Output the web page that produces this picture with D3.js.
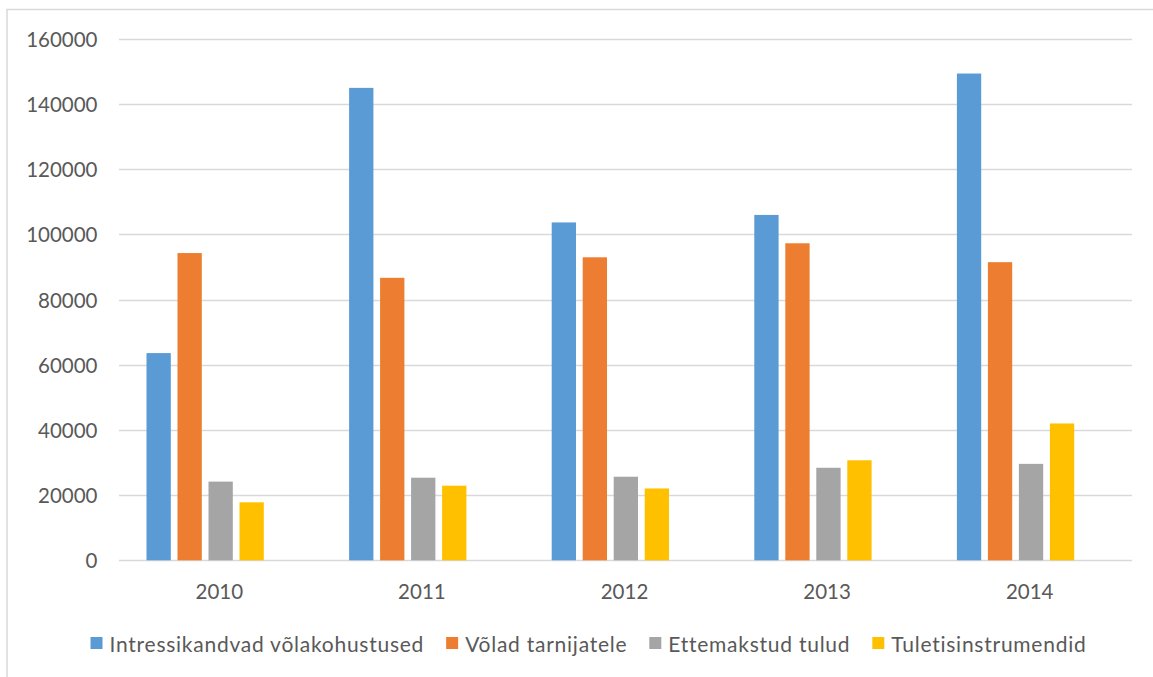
<!DOCTYPE html>
<html>
<head>
<meta charset="utf-8">
<script src="https://cdn.jsdelivr.net/npm/d3@7"></script>
<style>
  html, body { margin: 0; padding: 0; background: #fff; }
  svg { display: block; }
  text { font-family: Lato, "Open Sans", sans-serif; fill: #595959; }
</style>
</head>
<body>
<svg id="chart" width="1153" height="677"></svg>
<script>
const years = ["2010", "2011", "2012", "2013", "2014"];
const seriesNames = ["Intressikandvad võlakohustused", "Võlad tarnijatele", "Ettemakstud tulud", "Tuletisinstrumendid"];
const seriesColors = ["#5B9BD5", "#ED7D31", "#A5A5A5", "#FFC000"];
const intressikandvad = [63600, 145000, 103700, 106000, 149400];
const volad = [94300, 86700, 93000, 97300, 91500];
const ettemakstud = [24150, 25350, 25650, 28400, 29600];
const tuletis = [17800, 22900, 22050, 30700, 42000];
const yTicks = [0, 20000, 40000, 60000, 80000, 100000, 120000, 140000, 160000];

const seriesValues = [intressikandvad, volad, ettemakstud, tuletis];

const svg = d3.select("#chart");
const W = 1153, H = 677;
const plot = { left: 119, right: 1132, top: 39, bottom: 560.3 };
const fontSize = 20.5;

// outer chart border (only left & top are visible in the crop)
svg.append("rect")
  .attr("x", 7).attr("y", 9.5)
  .attr("width", W + 20).attr("height", H + 20)
  .attr("fill", "none").attr("stroke", "#d9d9d9").attr("stroke-width", 1.5);

const y = d3.scaleLinear().domain([0, 160000]).range([plot.bottom, plot.top]);
const x0 = d3.scaleBand().domain(years).range([plot.left, plot.right]).paddingInner(0).paddingOuter(0);
// Excel reserves five slots per category (one empty series)
const slots = d3.range(5);
const x1 = d3.scaleBand().domain(slots).range([27.5, 175.8]).paddingInner(0.216).paddingOuter(0);

// gridlines
svg.append("g").selectAll("line").data(yTicks).join("line")
  .attr("x1", plot.left).attr("x2", plot.right)
  .attr("y1", d => Math.round(y(d)) + 0.5).attr("y2", d => Math.round(y(d)) + 0.5)
  .attr("stroke", "#d9d9d9").attr("stroke-width", 1.3);

// y tick labels
svg.append("g").selectAll("text").data(yTicks).join("text")
  .attr("x", 97.5).attr("y", d => y(d))
  .attr("text-anchor", "end").attr("dominant-baseline", "central")
  .style("font-size", fontSize + "px")
  .text(d => String(d));

// bars
const groups = svg.append("g").selectAll("g").data(years).join("g")
  .attr("transform", d => `translate(${x0(d)},0)`);
groups.selectAll("rect")
  .data((yr, i) => seriesValues.map((vals, s) => ({ s, v: vals[i] })))
  .join("rect")
  .attr("x", d => x1(d.s))
  .attr("width", x1.bandwidth())
  .attr("y", d => y(d.v))
  .attr("height", d => y(0) - y(d.v))
  .attr("fill", d => seriesColors[d.s]);

// x labels
svg.append("g").selectAll("text").data(years).join("text")
  .attr("x", d => x0(d) + x0.bandwidth() / 2 - 1)
  .attr("y", 591)
  .attr("text-anchor", "middle").attr("dominant-baseline", "central")
  .style("font-size", fontSize + "px")
  .text(d => d);

// legend
const legend = svg.append("g");
const items = legend.selectAll("g").data(seriesNames).join("g");
items.append("rect")
  .attr("width", 12).attr("height", 12)
  .attr("y", 637)
  .attr("fill", (d, i) => seriesColors[i]);
items.append("text")
  .attr("x", 19).attr("y", 643.5)
  .attr("dominant-baseline", "central")
  .style("font-size", "21px")
  .style("letter-spacing", "0.75px")
  .text(d => d);
let widths = [];
items.each(function () { widths.push(this.querySelector("text").getComputedTextLength()); });
const gap = 22;
const total = d3.sum(widths.map(w => 19 + w)) + gap * (widths.length - 1);
let cx = 588.5 - total / 2;
items.attr("transform", (d, i) => {
  const t = `translate(${cx},0)`;
  cx += 19 + widths[i] + gap;
  return t;
});
</script>
</body>
</html>
